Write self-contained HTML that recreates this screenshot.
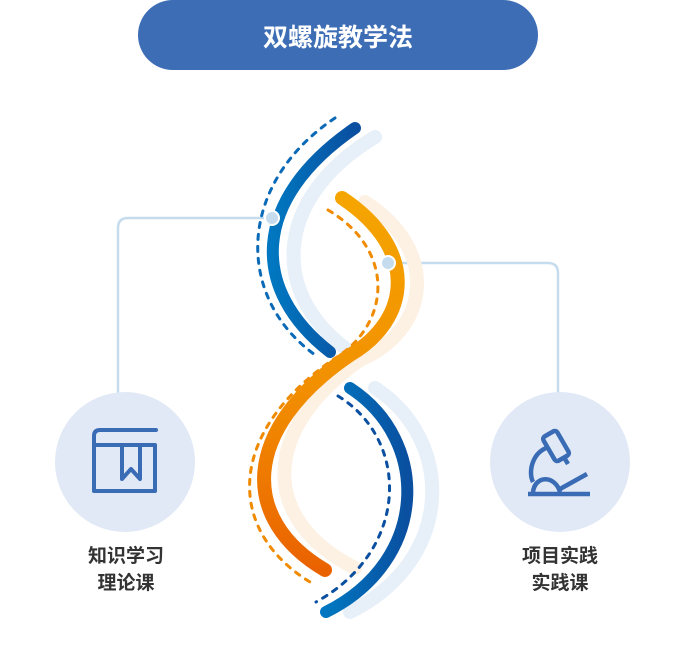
<!DOCTYPE html>
<html><head><meta charset="utf-8"><style>
html,body{margin:0;padding:0;background:#fff;width:676px;height:670px;overflow:hidden}
svg{display:block}
</style></head><body>
<svg width="676" height="670" viewBox="0 0 676 670" xmlns="http://www.w3.org/2000/svg">
<defs>
<linearGradient id="org" x1="0" y1="0" x2="0" y2="1"><stop offset="0" stop-color="#f5a500"/><stop offset="0.5" stop-color="#f29000"/><stop offset="1" stop-color="#ea6200"/></linearGradient>
<linearGradient id="blu" x1="0" y1="0" x2="1" y2="0"><stop offset="0" stop-color="#0077c0"/><stop offset="1" stop-color="#0a4fa0"/></linearGradient>
</defs>
<rect x="138" y="0" width="400" height="70" rx="35" fill="#3d6db5"/>
<text x="338" y="46" text-anchor="middle" font-family="Liberation Sans,'Noto Sans CJK SC',sans-serif" font-size="25" font-weight="bold" fill="#fff">双螺旋教学法</text>

<g fill="none" stroke="#c5dcee" stroke-width="2.5">
<path d="M272,218 H128 Q118,218 118,228 V395"/>
<path d="M388,263 H548 Q558,263 558,273 V395"/>
</g>

<g fill="none" stroke-linecap="round">
<path d="M375,137 C270,200 270,300 355,355" stroke="#e7eff8" stroke-width="14"/>
<path d="M365,202 C440,250 430,330 360,360 C260,430 260,520 355,568" stroke="#fdf1e4" stroke-width="14"/>
<path d="M375,388 C455,440 455,560 350,612" stroke="#e7eff8" stroke-width="14"/>
<path d="M335,118 C235,185 235,300 318,357" stroke="#0a6ab8" stroke-width="3" stroke-dasharray="5 7"/>
<path d="M355,128 C250,200 250,290 330,352" stroke="url(#blu)" stroke-width="12"/>
<path d="M328,210 C395,250 390,320 340,355 C225,430 225,530 310,582" stroke="#f08a00" stroke-width="3" stroke-dasharray="5 7"/>
<path d="M342,198 C420,250 410,320 350,355 C240,430 240,520 325,570" stroke="url(#org)" stroke-width="14"/>
<path d="M338,396 C410,440 410,550 316,602" stroke="#0a4fa0" stroke-width="3" stroke-dasharray="5 7"/>
<path d="M350,388 C430,440 430,560 326,612" stroke="url(#blu)" stroke-width="12"/>
</g>
<circle cx="272" cy="218" r="7" fill="#c5dcee" stroke="#fff" stroke-width="2"/>
<circle cx="388" cy="263" r="7" fill="#c5dcee" stroke="#fff" stroke-width="2"/>

<circle cx="125" cy="462" r="70" fill="#e1e9f6"/>
<circle cx="560" cy="462" r="70" fill="#e1e9f6"/>

<g fill="none" stroke="#3a6bb5" stroke-width="4" stroke-linejoin="round" stroke-linecap="round">
<path d="M156,430 H100 Q94,430 94,436 V491 H155 V445 H94"/>
<path d="M122,445 V479 L131,469 L140,479 V445"/>
</g>
<g fill="none" stroke="#3a6bb5" stroke-width="4.5" stroke-linejoin="round">
<rect x="548" y="432" width="16" height="28" rx="3" transform="rotate(-30 556 446)"/>
<path d="M565,459 L568,464"/>
<path d="M549,447 C532,452 528,472 533,482"/>
<path d="M533,492 C535,475 555,475 560,492"/>
<path d="M528,494 H590"/>
<path d="M560,489 L587,474"/>
</g>

<g font-family="Liberation Sans,'Noto Sans CJK SC',sans-serif" font-size="19" font-weight="bold" fill="#333" text-anchor="middle">
<text x="126" y="562">知识学习</text>
<text x="126" y="589">理论课</text>
<text x="560" y="562">项目实践</text>
<text x="560" y="589">实践课</text>
</g>
</svg>
</body></html>
